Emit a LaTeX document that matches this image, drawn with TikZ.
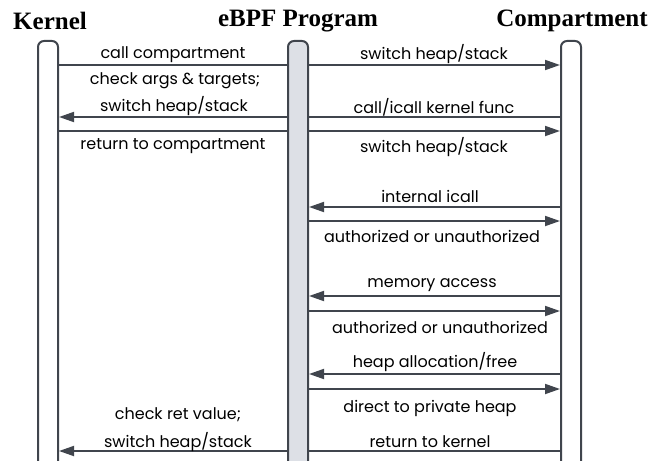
\documentclass[tikz,border=0pt]{standalone}
\usepackage{fontspec}
\setmainfont{Poppins}
\newfontfamily\titlefont{Liberation Serif}
\usetikzlibrary{arrows.meta}
\definecolor{ln}{HTML}{40454D}
\definecolor{barfill}{HTML}{DDE0E6}
\tikzset{
  x=1pt,y=-1pt,
  lifebar/.style={draw=ln,line width=2pt,rounded corners=6pt,minimum width=20pt,minimum height=440pt,anchor=north,inner sep=0pt},
  title/.style={font=\titlefont\bfseries\fontsize{25}{27}\selectfont,text=black,inner sep=0pt},
  lbl/.style={font=\fontsize{16}{18}\selectfont,text=black,inner sep=0pt,yshift=-2.5pt},
  msg/.style={draw=ln,line width=1.8pt,-{Triangle[length=15pt,width=10pt]}},
  seg/.style={draw=ln,line width=1.8pt},
}
\begin{document}
\begin{tikzpicture}
\useasboundingbox (0,0) rectangle (660,460);
\begin{scope}
\clip (0,0) rectangle (660,460);
\node[lifebar,fill=white] (kb) at (48,40) {};
\node[lifebar,fill=barfill] (eb) at (298,40) {};
\node[lifebar,fill=white] (cb) at (571,40) {};
\end{scope}
\node[title] (tk) at (50,21) {Kernel};
\node[title] (te) at (298,21) {eBPF Program};
\node[title] (tc) at (572,21) {Compartment};
% message 1
\draw[seg] (kb.east |- 0,65) -- (eb.west |- 0,65);
\draw[msg] (eb.east |- 0,65) -- (cb.west |- 0,65);
\node[lbl] (l1) at (173,52) {call compartment};
\node[lbl] (r1) at (434,52) {switch heap/stack};
% message 2
\draw[seg] (cb.west |- 0,117) -- (eb.east |- 0,117);
\draw[msg] (eb.west |- 0,117) -- (kb.east |- 0,117);
\node[lbl] (l2a) at (175,78) {check args \& targets;};
\node[lbl] (l2b) at (174,104) {switch heap/stack};
\node[lbl] (r2) at (434,105) {call/icall kernel func};
% message 3
\draw[seg] (kb.east |- 0,131) -- (eb.west |- 0,131);
\draw[msg] (eb.east |- 0,131) -- (cb.west |- 0,131);
\node[lbl] (l3) at (173,144) {return to compartment};
\node[lbl] (r3) at (434,145) {switch heap/stack};
% internal icall
\draw[msg] (cb.west |- 0,207) -- (eb.east |- 0,207);
\node[lbl] (r4) at (430,194) {internal icall};
\draw[msg] (eb.east |- 0,221) -- (cb.west |- 0,221);
\node[lbl] (r5) at (432,234) {authorized or unauthorized};
% memory access
\draw[msg] (cb.west |- 0,296) -- (eb.east |- 0,296);
\node[lbl] (r6) at (432,283) {memory access};
\draw[msg] (eb.east |- 0,311) -- (cb.west |- 0,311);
\node[lbl] (r7) at (440,325) {authorized or unauthorized};
% heap
\draw[msg] (cb.west |- 0,374) -- (eb.east |- 0,374);
\node[lbl] (r8) at (435,360) {heap allocation/free};
\draw[msg] (eb.east |- 0,389) -- (cb.west |- 0,389);
\node[lbl] (r9) at (430,406) {direct to private heap};
% return
\draw[seg] (cb.west |- 0,451) -- (eb.east |- 0,451);
\draw[msg] (eb.west |- 0,451) -- (kb.east |- 0,451);
\node[lbl] (r10) at (430,439) {return to kernel};
\node[lbl] (l10a) at (178,412) {check ret value;};
\node[lbl] (l10b) at (178,440) {switch heap/stack};
\end{tikzpicture}
\end{document}
